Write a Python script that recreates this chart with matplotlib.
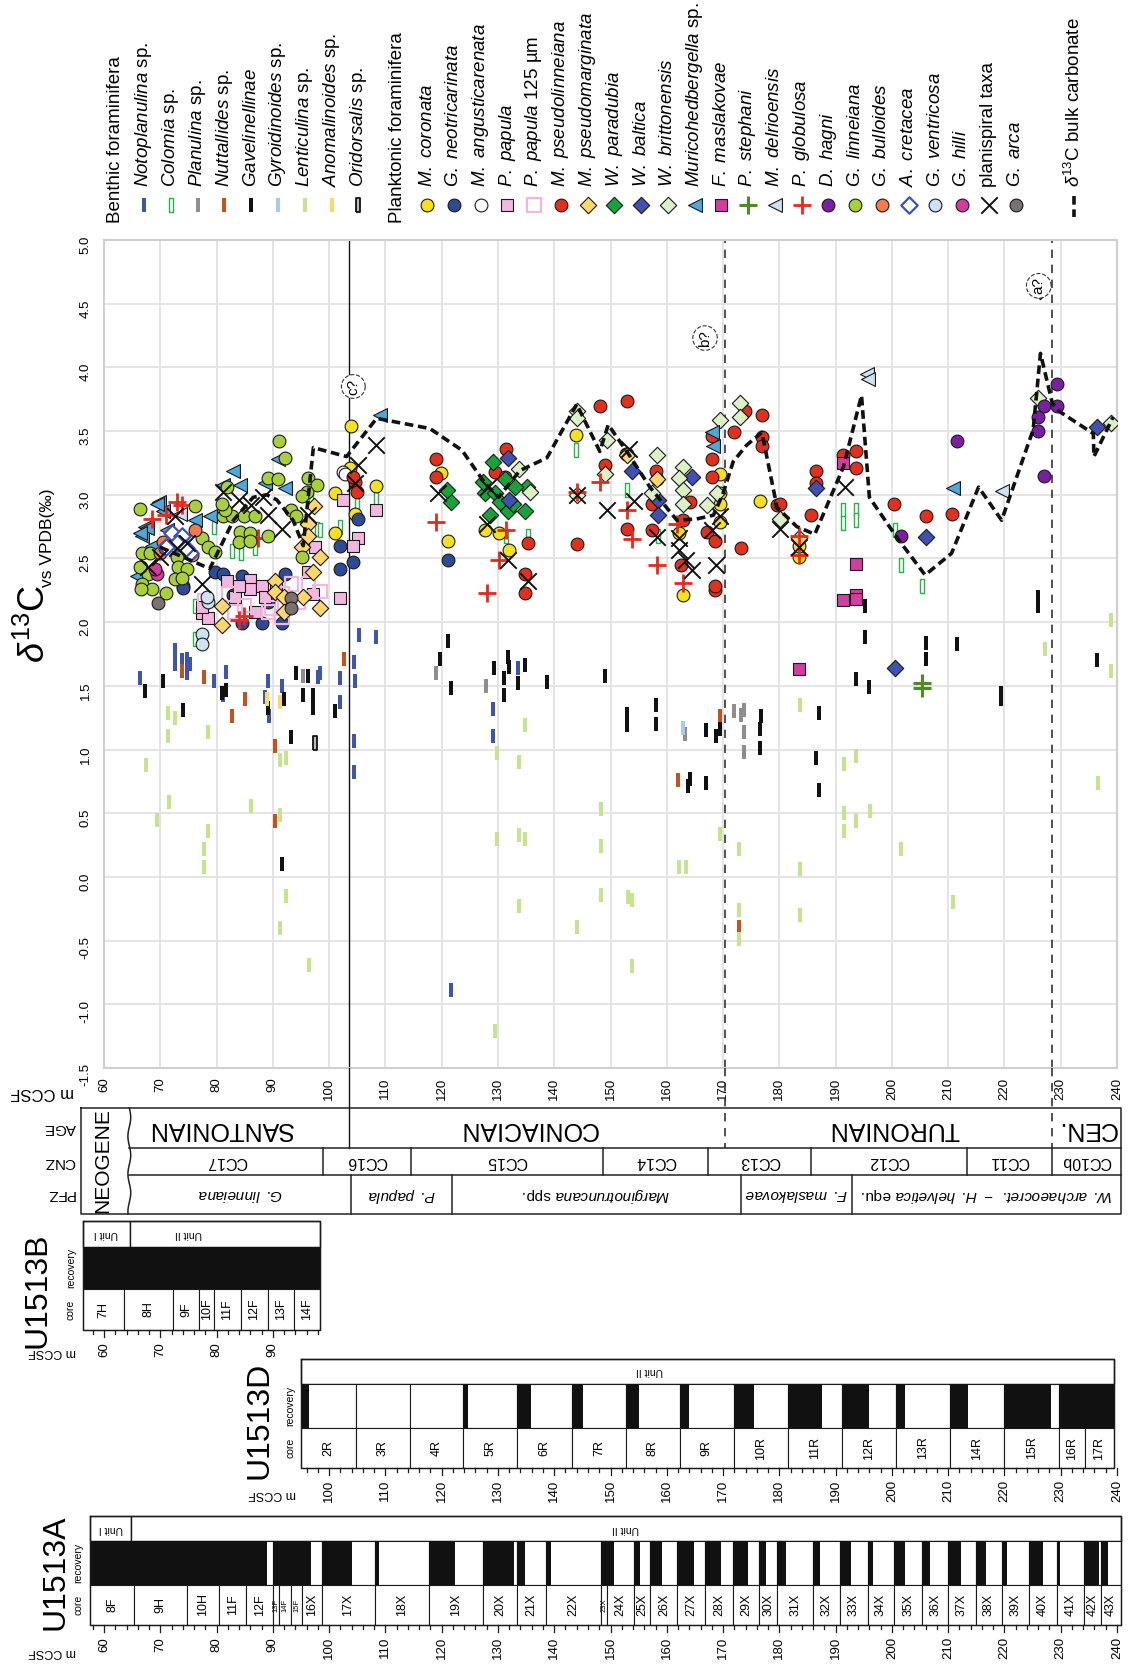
import numpy as np
import matplotlib
matplotlib.use('Agg')
import matplotlib.pyplot as plt
from matplotlib.patches import Rectangle
import matplotlib.transforms as mtransforms

plt.rcParams['font.family'] = ['Liberation Sans', 'DejaVu Sans']
plt.rcParams['mathtext.fontset'] = 'custom'
plt.rcParams['mathtext.rm'] = 'Liberation Sans'
plt.rcParams['mathtext.it'] = 'Liberation Sans:italic'
plt.rcParams['mathtext.bf'] = 'Liberation Sans:bold'

# ─── DATA (depth m CCSF, d13C permil) ────────────────────────────────────
# benthic foraminifera
NOTOPLANULINA = [(66.4, 1.56), (72.7, 1.67), (72.7, 1.78), (73.8, 1.70), (73.8, 1.62), (74.7, 1.71),
                 (74.7, 1.60), (75.2, 1.67), (79.6, 1.54), (81.7, 1.61), (81.1, 1.43), (89.1, 1.54),
                 (88.6, 1.41), (89.3, 1.26), (91.6, 1.50), (98.0, 1.57), (98.4, 1.60), (101.9, 1.56),
                 (101.9, 1.37), (104.4, 1.69), (104.6, 1.54), (105.3, 1.90), (108.4, 1.88), (104.4, 1.07),
                 (104.4, 0.82), (129.2, 1.32), (129.2, 1.11), (133.6, 1.64), (121.6, -0.89)]
COLOMIA = [(97.8, 2.73), (98.4, 2.72), (82.7, 2.56), (84.3, 2.54), (86.9, 2.58), (101.9, 2.75),
           (104.9, 2.94), (76.2, 2.13), (76.2, 1.87), (108.4, 2.97), (143.8, 3.35), (152.9, 3.04),
           (135.4, 2.68), (131.5, 2.68), (158.4, 2.68), (191.4, 2.88), (193.6, 2.88), (200.6, 2.72),
           (201.7, 2.45), (205.3, 2.28), (191.4, 2.78), (193.6, 2.80), (79.5, 2.75), (96.8, 2.95)]
PLANULINA = [(119.0, 1.60), (127.8, 1.50), (172.0, 1.30), (173.1, 1.27), (173.7, 1.31), (173.7, 1.14),
             (173.7, 0.98), (163.2, 1.12), (95.3, 1.58)]
NUTTALLIDES = [(73.9, 1.62), (77.8, 1.57), (82.7, 1.26), (85.05, 1.40), (90.3, 1.03), (90.3, 0.44),
               (102.6, 1.71), (162.0, 0.76), (169.5, 1.26), (172.8, -0.39)]
GAVELINELLINAE = [(67.3, 1.46), (70.4, 1.54), (74.1, 1.31), (80.9, 1.44), (81.7, 1.47), (89.1, 1.33),
                  (91.9, 1.40), (93.2, 1.10), (94.1, 1.60), (96.2, 1.58), (95.3, 1.43), (97.2, 1.43),
                  (97.2, 1.33), (101.0, 1.30), (91.6, 0.10), (121.2, 1.85), (119.7, 1.71), (121.6, 1.48),
                  (129.3, 1.64), (131.0, 1.56), (131.1, 1.43), (131.7, 1.73), (132.0, 1.65), (133.6, 1.52),
                  (134.8, 1.66), (138.7, 1.53), (149.1, 1.58), (152.9, 1.19), (152.9, 1.28), (158.1, 1.35),
                  (158.1, 1.20), (163.8, 0.71), (164.1, 0.77), (166.9, 1.15), (166.9, 0.74), (168.7, 1.11),
                  (169.5, 1.16), (176.7, 1.26), (176.6, 1.16), (176.6, 1.01), (195.2, 2.13), (195.2, 1.88),
                  (206.0, 1.84), (206.0, 1.71), (211.6, 1.83), (193.6, 1.55), (195.9, 1.49), (219.3, 1.44),
                  (219.3, 1.40), (187.0, 1.29), (186.6, 0.93), (187.0, 0.68), (226.0, 2.13), (226.0, 2.20),
                  (236.4, 1.70)]
GYROIDINOIDES = [(162.8, 1.17)]
LENTICULINA = [(71.3, 1.29), (72.7, 1.25), (71.3, 1.11), (78.4, 1.14), (67.5, 0.88), (71.5, 0.59),
               (69.4, 0.45), (78.4, 0.36), (77.8, 0.22), (77.8, 0.08), (86.1, 0.56), (91.3, 0.92),
               (92.3, 0.93), (91.3, 0.49), (92.3, -0.15), (91.3, -0.40), (96.4, -0.69), (134.8, 1.19),
               (129.8, 0.97), (133.7, 0.90), (129.8, 0.30), (133.7, 0.33), (134.8, 0.30), (148.3, 0.53),
               (148.3, 0.24), (148.3, -0.14), (144.05, -0.39), (153.05, -0.16), (153.9, -0.18),
               (153.9, -0.70), (133.7, -0.23), (129.5, -1.21), (162.2, 0.08), (163.4, 0.08), (169.5, 0.34),
               (172.8, 0.22), (172.8, -0.26), (172.8, -0.49), (183.7, 1.35), (183.7, 0.06), (183.7, -0.30),
               (191.5, 0.89), (193.7, 0.95), (191.5, 0.50), (193.7, 0.44), (196.1, 0.52), (191.5, 0.36),
               (201.7, 0.22), (210.8, -0.20), (227.2, 1.79), (236.7, 0.74), (239.0, 2.02), (239.0, 1.62)]
ANOMALINOIDES = [(88.9, 1.40), (91.3, 1.37)]
ORIDORSALIS = [(97.5, 1.05)]

# planktonic foraminifera
M_CORONATA = [(103.9, 3.54), (101.0, 3.01), (103.7, 3.21), (104.6, 2.85), (101.0, 2.70), (108.4, 3.07),
              (119.8, 3.17), (121.2, 2.64), (127.7, 2.72), (130.1, 2.70), (132.0, 2.57), (143.8, 3.47),
              (152.7, 3.32), (158.2, 3.12), (162.1, 2.70), (162.8, 2.21), (169.5, 3.16), (169.5, 3.01),
              (169.5, 2.93), (169.5, 2.79), (176.6, 2.95), (183.5, 2.51), (183.5, 2.60)]
G_NEOTRICARINATA = [(74.1, 2.28), (79.7, 2.39), (81.2, 2.38), (84.5, 2.36), (92.2, 2.38), (84.5, 1.99),
                    (88.0, 1.99), (91.6, 1.99), (101.9, 2.60), (101.9, 2.42), (105.2, 2.81), (104.3, 2.47),
                    (83.0, 2.21), (89.2, 2.16), (121.2, 2.49), (74.0, 2.27)]
M_ANGUSTICARENATA = [(102.5, 3.18), (102.9, 3.16)]
P_PAPULA = [(81.8, 2.32), (86.0, 2.33), (86.0, 2.26), (88.0, 2.28), (88.6, 2.20), (83.3, 2.20), (77.4, 2.07),
            (78.5, 2.03), (86.8, 2.08), (97.5, 2.59), (96.3, 2.39), (97.2, 2.22), (102.5, 2.96), (105.2, 2.66),
            (104.3, 2.60), (101.9, 2.19), (108.4, 2.88), (77.4, 2.12), (84.0, 2.28), (90.5, 2.27)]
P_PAPULA_125 = [(77.9, 2.17), (82.1, 2.22), (83.3, 2.08), (89.2, 2.08), (91.6, 2.04), (93.3, 2.30),
                (96.3, 2.30), (98.4, 2.24), (91.6, 2.22), (89.8, 2.11), (94.5, 2.16), (85.0, 2.13)]
M_PSEUDOLINNEIANA = [(104.6, 3.10), (104.9, 3.02), (104.3, 3.14), (119.0, 3.28), (119.0, 3.14), (131.4, 3.36),
                     (129.5, 3.18), (131.3, 3.14), (135.4, 2.62), (134.8, 2.38), (134.8, 2.23), (144.0, 2.61),
                     (148.1, 3.70), (152.9, 3.74), (149.0, 3.23), (152.9, 3.32), (152.9, 2.73), (157.3, 2.93),
                     (158.1, 3.19), (157.3, 2.72), (162.6, 2.45), (162.9, 2.80), (164.1, 2.94), (168.0, 3.28),
                     (168.0, 3.14), (168.0, 3.46), (167.1, 2.71), (168.6, 2.64), (168.6, 2.25), (168.6, 2.28),
                     (171.9, 3.49), (173.9, 3.66), (176.9, 3.63), (176.9, 3.45), (176.9, 3.38), (173.1, 2.58),
                     (179.5, 2.92), (180.2, 2.93), (186.5, 3.19), (186.5, 3.09), (185.6, 2.84), (191.4, 3.31),
                     (193.6, 3.34), (193.6, 3.21), (200.4, 2.93), (206.0, 2.83), (210.7, 2.85)]
M_PSEUDOMARGINATA = [(97.4, 2.91), (96.3, 2.77), (96.3, 2.68), (95.1, 2.59), (98.4, 2.51), (97.2, 2.39),
                     (90.4, 2.32), (90.4, 2.24), (91.9, 2.20), (95.4, 2.20), (98.4, 2.11), (80.9, 2.13),
                     (80.9, 1.98), (91.9, 2.08), (158.2, 3.12), (152.9, 3.31), (183.5, 2.66)]
W_PARADUBIA = [(129.2, 3.26), (127.7, 3.01), (129.5, 3.01), (131.3, 3.12), (128.6, 2.84), (131.8, 2.87),
               (134.8, 2.87), (135.1, 3.06), (121.6, 2.94), (120.9, 3.04), (130.4, 2.94), (132.7, 2.93),
               (127.4, 3.10), (133.0, 3.06)]
W_BALTICA = [(131.7, 3.29), (132.0, 2.96), (153.9, 3.19), (164.4, 3.14), (158.5, 2.96), (158.5, 2.84),
             (186.5, 3.05), (206.0, 2.67), (226.4, 4.60), (236.4, 3.53), (200.6, 1.64)]
W_BRITTONENSIS = [(133.8, 3.20), (135.7, 3.02), (144.0, 3.66), (144.0, 3.60), (149.3, 3.43), (149.0, 3.16),
                  (158.2, 3.31), (162.9, 3.22), (162.1, 3.13), (162.9, 3.04), (162.8, 2.93), (167.1, 2.92),
                  (169.5, 3.59), (173.0, 3.72), (173.0, 3.61), (157.3, 3.01), (144.0, 3.00), (168.9, 3.01),
                  (180.2, 2.81), (226.0, 3.76), (239.0, 3.56)]
MURICOHEDBERGELLA = [(83.0, 3.19), (84.2, 3.08), (81.2, 3.08), (92.2, 3.05), (88.6, 3.09), (78.8, 2.83),
                     (69.7, 2.94), (67.3, 2.75), (66.7, 2.68), (70.5, 2.87), (68.5, 2.60), (76.2, 2.80),
                     (91.0, 3.28), (65.8, 2.36), (69.4, 2.93), (67.6, 2.74), (66.4, 2.70), (71.2, 2.72),
                     (109.0, 3.63), (168.0, 3.49), (168.3, 3.38), (210.9, 3.05)]
F_MASLAKOVAE = [(191.4, 3.25), (193.6, 2.46), (191.4, 2.17), (193.6, 2.21), (183.5, 1.63), (193.6, 2.18)]
P_STEPHANI = [(205.3, 1.52), (205.3, 1.48)]
M_DELRIOENSIS = [(195.5, 3.95), (195.8, 3.91), (219.5, 3.03), (73.5, 2.85)]
P_GLOBULOSA = [(72.9, 2.94), (73.9, 2.92), (68.5, 2.81), (71.1, 2.84), (87.4, 2.66), (84.8, 2.05), (83.9, 2.02),
               (119.0, 2.79), (128.0, 2.23), (130.1, 2.49), (131.4, 2.72), (144.0, 3.02), (148.1, 3.10),
               (152.9, 2.88), (153.9, 2.65), (158.2, 2.45), (161.8, 2.77), (162.8, 2.31), (183.5, 2.68),
               (183.5, 2.53)]
D_HAGNI = [(211.6, 3.42), (201.7, 2.68), (227.1, 3.15), (229.4, 3.87), (227.0, 3.70), (229.4, 3.70),
           (226.0, 3.61), (226.0, 3.50)]
G_LINNEIANA = [(91.15, 3.42), (92.2, 3.29), (89.1, 3.13), (91.0, 3.12), (96.3, 3.13), (97.8, 3.08), (96.0, 3.02),
               (81.8, 3.06), (66.4, 2.89), (76.2, 2.91), (81.1, 2.83), (82.7, 2.83), (84.8, 2.83), (86.8, 2.83),
               (84.2, 2.71), (85.9, 2.70), (83.9, 2.63), (85.9, 2.64), (89.2, 2.68), (93.3, 2.88), (94.2, 2.83),
               (95.1, 2.99), (77.4, 2.66), (78.5, 2.59), (79.7, 2.55), (66.7, 2.54), (68.2, 2.54), (66.6, 2.43),
               (67.9, 2.38), (66.7, 2.30), (68.5, 2.26), (71.1, 2.23), (72.9, 2.51), (73.2, 2.43), (74.7, 2.42),
               (72.6, 2.34), (73.9, 2.35), (95.1, 2.51), (81.5, 2.88), (80.9, 2.93), (66.4, 2.43), (66.6, 2.26)]
G_BULLOIDES = [(76.2, 2.72), (70.5, 2.63), (70.0, 2.54), (75.6, 2.53), (70.8, 2.58)]
A_CRETACEA = [(72.0, 2.70), (73.8, 2.68), (72.9, 2.62), (71.1, 2.59), (75.3, 2.54), (74.5, 2.58)]
G_VENTRICOSA = [(78.5, 2.16), (78.3, 2.20), (77.5, 1.91), (77.5, 1.83)]
G_HILLI = [(69.4, 2.38), (69.0, 2.42)]
PLANISPIRAL = [(81.2, 3.02), (83.9, 2.96), (86.2, 2.92), (88.3, 2.98), (89.2, 2.84), (91.6, 2.73), (96.3, 2.84),
               (77.4, 2.30), (67.9, 2.43), (70.0, 2.51), (74.7, 2.62), (72.9, 2.58), (108.4, 3.39),
               (105.2, 3.23), (104.6, 3.09), (72.6, 2.83), (119.4, 3.01), (128.3, 3.06), (128.0, 2.77),
               (131.8, 2.49), (135.4, 2.32), (144.0, 3.00), (153.3, 3.36), (149.3, 2.88), (154.2, 2.95),
               (158.2, 2.67), (162.2, 2.66), (162.2, 2.57), (163.5, 2.49), (164.4, 2.41), (168.7, 2.45),
               (168.0, 2.72), (169.5, 2.83), (180.2, 2.73), (183.5, 2.59), (191.7, 3.06)]
G_ARCA = [(69.65, 2.15), (93.2, 2.19), (93.2, 2.11)]

# d13C bulk carbonate
BULK_DEPTH = [69.9, 78.8, 83.0, 86.5, 88.9, 90.7, 93.6, 95.4, 97.2, 103.1, 108.45, 117.9, 123.6, 127.7,
              130.1, 133.9, 138.7, 144.0, 148.1, 149.6, 153.2, 157.0, 161.8, 165.3, 168.3, 170.0, 171.8,
              174.2, 176.9, 179.6, 183.1, 186.3, 191.4, 194.6, 196.0, 200.8, 205.9, 210.6, 215.4, 219.5,
              225.1, 226.4, 228.5, 229.9, 235.8, 235.9, 239.3]
BULK_D13C = [2.59, 2.42, 2.80, 2.98, 3.00, 2.96, 2.80, 2.60, 3.37, 3.30, 3.60, 3.52, 3.35, 3.09,
             2.98, 3.19, 3.29, 3.71, 3.34, 3.55, 3.32, 3.06, 2.80, 2.81, 2.84, 3.01, 3.26,
             3.39, 3.49, 2.90, 2.75, 2.69, 3.22, 3.78, 2.98, 2.67, 2.37, 2.54, 3.06, 2.80,
             3.51, 4.11, 3.72, 3.65, 3.48, 3.30, 3.61]

ANNOTATIONS = [('a?', 226.1, 4.64), ('b?', 166.8, 4.23), ('c?', 104.3, 3.85)]
SANT_CONI, CONI_TUR, TUR_CEN = 103.6, 170.4, 228.4

# stratigraphy
AGE_NAMES = ['SANTONIAN', 'CONIACIAN', 'TURONIAN', 'CEN.']
AGE_EDGES = [64.5, 103.6, 170.4, 228.4, 240.7]
AGE_LABEL_AT = [80.6, 135.5, 200.4, 234.6]
CNZ_NAMES = ['CC17', 'CC16', 'CC15', 'CC14', 'CC13', 'CC12', 'CC11', 'CC10b']
CNZ_EDGES = [64.5, 99.0, 114.5, 148.7, 167.4, 185.6, 213.3, 228.4, 240.7]
PFZ_NAMES = [r'$\mathit{G.\ linneiana}$', r'$\mathit{P.\ papula}$', r'$\mathit{Marginotruncana}$ spp.',
             r'$\mathit{F.\ maslakovae}$', r'$\mathit{W.\ archaeocret.\ -\ H.\ helvetica}$ equ.']
PFZ_EDGES = [64.5, 103.9, 121.8, 173.1, 193.0, 240.7]

# cores
B_CORES = ['7H', '8H', '9F', '10F', '11F', '12F', '13F', '14F']
B_TOPS = [56.2, 63.5, 72.2, 76.9, 79.6, 84.3, 89.1, 93.8, 98.3]
B_REC = [7.3, 8.7, 4.7, 2.7, 4.7, 4.8, 4.7, 4.5]
D_CORES = ['2R', '3R', '4R', '5R', '6R', '7R', '8R', '9R', '10R', '11R', '12R', '13R', '14R', '15R', '16R', '17R']
D_TOPS = [94.95, 104.7, 114.3, 123.8, 133.4, 143.2, 152.7, 162.3, 171.9, 181.6, 191.1, 200.8, 210.4,
          220.0, 229.7, 234.3, 239.4]
D_REC = [1.5, 0.0, 0.0, 0.8, 2.4, 1.9, 2.3, 1.7, 3.6, 5.9, 4.9, 1.5, 3.1, 8.2, 4.6, 5.1]
A_CORES = ['8F', '9H', '10H', '11F', '12F', '13F', '14F', '15F', '16X', '17X', '18X', '19X', '20X', '21X',
           '22X', '23X', '24X', '25X', '26X', '27X', '28X', '29X', '30X', '31X', '32X', '33X', '34X', '35X',
           '36X', '37X', '38X', '39X', '40X', '41X', '42X', '43X']
A_TOPS = [57.5, 65.4, 74.8, 80.5, 85.2, 90.1, 91.1, 93.3, 95.2, 98.7, 108.2, 117.8, 127.4, 133.4, 138.5,
          148.3, 149.3, 154.1, 157.1, 161.9, 166.8, 171.7, 176.4, 179.6, 186.0, 190.8, 195.7, 200.4, 205.4,
          210.0, 214.9, 219.6, 224.4, 229.3, 234.2, 237.2, 240.7]
A_REC = [7.9, 9.4, 5.7, 4.7, 3.8, 1.0, 2.2, 1.9, 1.5, 5.4, 0.6, 4.5, 5.4, 1.4, 0.9, 1.0, 1.3, 1.2, 2.0,
         2.9, 2.9, 2.8, 1.3, 1.5, 1.3, 1.9, 0.9, 1.9, 1.4, 2.2, 1.8, 0.9, 2.4, 0.6, 2.6, 1.2]

# ─── STYLES ─────────────────────────────────────────────────────────────
BAR = [(-1, -4), (1, -4), (1, 4), (-1, 4), (-1, -4)]
BS = 115
LEG_FS = 13.5


def bstyle(fc, ec=None, lw=0):
    return dict(marker=BAR, s=BS, facecolors=fc, edgecolors=ec if ec else fc, linewidths=lw)


def pstyle(marker, fc, s=85, ec='#1a1a1a', lw=0.8):
    return dict(marker=marker, s=s, facecolors=fc, edgecolors=ec, linewidths=lw)


BENTHIC = [
    (r'$\mathit{Notoplanulina}$ sp.', NOTOPLANULINA, bstyle('#3d55b0')),
    (r'$\mathit{Colomia}$ sp.', COLOMIA, bstyle('white', '#27b24a', 1.0)),
    (r'$\mathit{Planulina}$ sp.', PLANULINA, bstyle('#8e8e8e')),
    (r'$\mathit{Nuttallides}$ sp.', NUTTALLIDES, bstyle('#c8511b')),
    (r'$\mathit{Gavelinellinae}$', GAVELINELLINAE, bstyle('#111111')),
    (r'$\mathit{Gyroidinoides}$ sp.', GYROIDINOIDES, bstyle('#aac9ec')),
    (r'$\mathit{Lenticulina}$ sp.', LENTICULINA, bstyle('#c6e48c')),
    (r'$\mathit{Anomalinoides}$ sp.', ANOMALINOIDES, bstyle('#fdd867')),
    (r'$\mathit{Oridorsalis}$ sp.', ORIDORSALIS, bstyle('#bdbdbd', '#111111', 1.3)),
]
PLANKTONIC = [
    (r'$\mathit{M.}$ $\mathit{coronata}$', M_CORONATA, pstyle('o', '#f6e11a')),
    (r'$\mathit{G.}$ $\mathit{neotricarinata}$', G_NEOTRICARINATA, pstyle('o', '#2d4a94')),
    (r'$\mathit{M.}$ $\mathit{angusticarenata}$', M_ANGUSTICARENATA, pstyle('o', 'white')),
    (r'$\mathit{P.}$ $\mathit{papula}$', P_PAPULA, pstyle('s', '#f3b7df', s=80)),
    (r'$\mathit{P.}$ $\mathit{papula}$ $\mathit{125}$ µm', P_PAPULA_125, pstyle('s', 'none', s=95, ec='#f3b7df', lw=1.6)),
    (r'$\mathit{M.}$ $\mathit{pseudolinneiana}$', M_PSEUDOLINNEIANA, pstyle('o', '#e2301c')),
    (r'$\mathit{M.}$ $\mathit{pseudomarginata}$', M_PSEUDOMARGINATA, pstyle('D', '#fed76c', s=70)),
    (r'$\mathit{W.}$ $\mathit{paradubia}$', W_PARADUBIA, pstyle('D', '#16a33a', s=70)),
    (r'$\mathit{W.}$ $\mathit{baltica}$', W_BALTICA, pstyle('D', '#3f51b3', s=70)),
    (r'$\mathit{W.}$ $\mathit{brittonensis}$', W_BRITTONENSIS, pstyle('D', '#ddf1c6', s=70)),
    (r'$\mathit{Muricohedbergella}$ sp.', MURICOHEDBERGELLA, pstyle('<', '#4ea8db', s=100)),
    (r'$\mathit{F.}$ $\mathit{maslakovae}$', F_MASLAKOVAE, pstyle('s', '#d43c9f', s=80)),
    (r'$\mathit{P.}$ $\mathit{stephani}$', P_STEPHANI, dict(marker='+', s=170, c='#4c8a2b', linewidths=2.2)),
    (r'$\mathit{M.}$ $\mathit{delrioensis}$', M_DELRIOENSIS, pstyle('<', '#cfe0f2', s=100)),
    (r'$\mathit{P.}$ $\mathit{globulosa}$', P_GLOBULOSA, dict(marker='+', s=150, c='#e8281c', linewidths=2.0)),
    (r'$\mathit{D.}$ $\mathit{hagni}$', D_HAGNI, pstyle('o', '#7a1f9f')),
    (r'$\mathit{G.}$ $\mathit{linneiana}$', G_LINNEIANA, pstyle('o', '#a7d03b')),
    (r'$\mathit{G.}$ $\mathit{bulloides}$', G_BULLOIDES, pstyle('o', '#f47b4b')),
    (r'$\mathit{A.}$ $\mathit{cretacea}$', A_CRETACEA, pstyle('D', 'white', s=70, ec='#3f51b3', lw=1.6)),
    (r'$\mathit{G.}$ $\mathit{ventricosa}$', G_VENTRICOSA, pstyle('o', '#cfe2f3')),
    (r'$\mathit{G.}$ $\mathit{hilli}$', G_HILLI, pstyle('o', '#d53b9f')),
    ('planispiral taxa', PLANISPIRAL, dict(marker='x', s=140, c='#111111', linewidths=1.4)),
    (r'$\mathit{G.}$ $\mathit{arca}$', G_ARCA, pstyle('o', '#7a7272')),
]

# ─── FIGURE ─────────────────────────────────────────────────────────────
W, H = 1128, 1670
fig = plt.figure(figsize=(W / 100, H / 100), dpi=100)
ax = fig.add_axes([104 / W, 1 - 1068 / H, 1013 / W, 828 / H])
ax.set_xlim(60, 240)
ax.set_ylim(-1.5, 5.0)
ax.set_xticks(np.arange(60, 241, 10))
ax.set_yticks(np.arange(-1.5, 5.01, 0.5))
ax.set_yticklabels(['%.1f' % v for v in np.arange(-1.5, 5.01, 0.5)])
ax.tick_params(length=0, labelsize=9.5)
ax.tick_params(axis='x', labelrotation=90, pad=7)
ax.tick_params(axis='y', labelrotation=90, pad=9)
ax.grid(True, color='#e2e2e2', lw=1.3)
ax.set_axisbelow(True)
for sp in ax.spines.values():
    sp.set_color('#cfcfcf')
    sp.set_linewidth(1.5)

for label, pts, st in BENTHIC + PLANKTONIC:
    a = np.array(pts)
    ax.scatter(a[:, 0], a[:, 1], zorder=3, **st)

ax.plot(BULK_DEPTH, BULK_D13C, color='#111111', lw=2.6, ls=(0, (2.4, 1.3)), zorder=5)
ax.axvline(SANT_CONI, color='#111111', lw=1.0, zorder=2)
for d in (CONI_TUR, TUR_CEN):
    ax.axvline(d, color='#333333', lw=1.2, ls=(0, (5, 4)), zorder=2)
for txt, d, v in ANNOTATIONS:
    ax.text(d, v, txt, rotation=90, ha='center', va='center', fontsize=11, zorder=6,
            bbox=dict(boxstyle='circle,pad=0.25', fc='white', ec='#333333', lw=0.8, ls='--'))

# overlay in pixel units (y from the top); x of columns follows the depth axis
ovl = fig.add_axes([0, 0, 1, 1])
ovl.set_xlim(0, W)
ovl.set_ylim(H, 0)
ovl.axis('off')
tr = mtransforms.blended_transform_factory(ax.transData, ovl.transData)

# y label
t1 = ovl.text(45, 663, r'$\delta^{13}$C', rotation=90, rotation_mode='anchor', ha='left', va='baseline',
              fontsize=26)
fig.canvas.draw()
bb = t1.get_window_extent().transformed(ovl.transData.inverted())
ovl.text(52, min(bb.y0, bb.y1) + 2, 'vs VPDB(‰)', rotation=90, rotation_mode='anchor', ha='left',
         va='baseline', fontsize=12.5)

# legend
ovl.text(116, 223, 'Benthic foraminifera', rotation=90, rotation_mode='anchor', ha='left', va='center',
         fontsize=LEG_FS)
for i, (label, pts, st) in enumerate(BENTHIC):
    x = 144 + 26.8 * i
    ovl.scatter([x], [205], **st)
    ovl.text(x, 187, label, rotation=90, rotation_mode='anchor', ha='left', va='center', fontsize=LEG_FS)
ovl.text(398, 223, 'Planktonic foraminifera', rotation=90, rotation_mode='anchor', ha='left', va='center',
         fontsize=LEG_FS)
for i, (label, pts, st) in enumerate(PLANKTONIC):
    x = 427 + 26.75 * i
    ovl.scatter([x], [205], **st)
    ovl.text(x, 187, label, rotation=90, rotation_mode='anchor', ha='left', va='center', fontsize=LEG_FS)
ovl.plot([1074, 1074], [196, 217], color='#111111', lw=2.6, ls=(0, (2.4, 1.3)))
ovl.text(1074, 187, r'$\delta^{13}$C bulk carbonate', rotation=90, rotation_mode='anchor', ha='left',
         va='center', fontsize=LEG_FS)

# depth axis caption
ovl.text(42, 1092, 'm CCSF', rotation=180, ha='center', va='center', fontsize=12)

# boundary lines running through tick labels and age row
ovl.plot([SANT_CONI, SANT_CONI], [1068, 1148], transform=tr, color='#111111', lw=1.0)
for d in (CONI_TUR, TUR_CEN):
    ovl.plot([d, d], [1068, 1148], transform=tr, color='#333333', lw=1.2, ls=(0, (5, 4)))

# ─── STRATIGRAPHIC COLUMN ───────────────────────────────────────────────
Y0, Y1, Y2, Y3 = 1108, 1148, 1175, 1214
LEFT = 56.0
kw = dict(transform=tr, color='#222222', lw=1.1)
ovl.plot([LEFT, 240.7, 240.7, LEFT, LEFT], [Y0, Y0, Y3, Y3, Y0], **kw)
ovl.plot([64.5, 240.7], [Y1, Y1], **kw)
ovl.plot([64.5, 240.7], [Y2, Y2], **kw)
yy = np.linspace(Y0, Y3, 60)
ovl.plot(64.5 + 0.25 * np.sin((yy - Y0) / 6.0), yy, **kw)
ovl.text(103, (Y0 + Y3) / 2, 'NEOGENE', rotation=90, ha='center', va='center', fontsize=15)
for lab, yc in (('AGE', (Y0 + Y1) / 2), ('CNZ', (Y1 + Y2) / 2), ('PFZ', (Y2 + Y3) / 2)):
    ovl.text(60, yc, lab, rotation=180, ha='center', va='center', fontsize=11)
for name, xc in zip(AGE_NAMES, AGE_LABEL_AT):
    ovl.text(xc, (Y0 + Y1) / 2 + 1, name, transform=tr, rotation=180, ha='center', va='center', fontsize=18)
for e in CNZ_EDGES[1:-1]:
    ovl.plot([e, e], [Y1, Y2], **kw)
for name, a, b in zip(CNZ_NAMES, CNZ_EDGES[:-1], CNZ_EDGES[1:]):
    ovl.text((a + b) / 2, (Y1 + Y2) / 2, name, transform=tr, rotation=180, ha='center', va='center',
             fontsize=11.5)
for e in PFZ_EDGES[1:-1]:
    ovl.plot([e, e], [Y2, Y3], **kw)
for name, a, b in zip(PFZ_NAMES, PFZ_EDGES[:-1], PFZ_EDGES[1:]):
    ovl.text((a + b) / 2, (Y2 + Y3) / 2, name, transform=tr, rotation=180, ha='center', va='center',
             fontsize=11)


# ─── CORE COLUMNS ───────────────────────────────────────────────────────
def draw_site(name, names, tops, rec, units, yu, yr, yc, yb, tick_range, lab_xy, cap_xy, cr_x, unit_at=None):
    left, right = tops[0], tops[-1]
    k = dict(transform=tr, color='#1a1a1a', lw=1.0)
    # unit row
    for j, (uname, a, b) in enumerate(units):
        ovl.add_patch(Rectangle((a, yu), b - a, yr - yu, transform=tr, fc='white', ec='#1a1a1a', lw=1.0))
        xc = unit_at[j] if unit_at else (a + b) / 2
        ovl.text(xc, (yu + yr) / 2, uname, transform=tr, rotation=180, ha='center', va='center', fontsize=7.5)
    # recovery + core cells
    for cname, a, b, r in zip(names, tops[:-1], tops[1:], rec):
        ovl.add_patch(Rectangle((a, yr), b - a, yc - yr, transform=tr, fc='white', ec='#1a1a1a', lw=0.8))
        if r > 0:
            ovl.add_patch(Rectangle((a, yr), min(r, b - a), yc - yr, transform=tr, fc='#111111', lw=0))
        ovl.add_patch(Rectangle((a, yc), b - a, yb - yc, transform=tr, fc='white', ec='#1a1a1a', lw=0.8))
        fs = 9 if b - a > 2.5 else 5.5
        ovl.text((a + b) / 2, (yc + yb) / 2, cname, transform=tr, rotation=90, ha='center', va='center',
                 fontsize=fs)
    ovl.plot([left, right, right, left, left], [yu, yu, yb, yb, yu], **k)
    # depth ticks
    for d in range(tick_range[0], tick_range[1] + 1, 2):
        L = 7 if d % 10 == 0 else 4
        ovl.plot([d, d], [yb, yb + L], transform=tr, color='#1a1a1a', lw=0.9)
        if d % 10 == 0:
            ovl.text(d, yb + 12, str(d), transform=tr, rotation=90, ha='center', va='top', fontsize=9.5)
    ovl.text(lab_xy[0], lab_xy[1], name, rotation=90, ha='center', va='center', fontsize=23)
    ovl.text(cap_xy[0], cap_xy[1], 'm CCSF', rotation=180, ha='center', va='center', fontsize=9)
    ovl.text(cr_x, (yc + yb) / 2, 'core', rotation=90, ha='center', va='center', fontsize=7.5)
    ovl.text(cr_x, (yr + yc) / 2, 'recovery', rotation=90, ha='center', va='center', fontsize=7.5)


draw_site('U1513B', B_CORES, B_TOPS, B_REC, [('Unit I', 56.2, 64.7), ('Unit II', 64.7, 98.3)],
          1221, 1247, 1289, 1330, (58, 98), (38, 1290), (52, 1352), 71, unit_at=[60.4, 75.0])
draw_site('U1513D', D_CORES, D_TOPS, D_REC, [('Unit II', 94.95, 239.4)],
          1359, 1384, 1428, 1468, (96, 240), (260, 1420), (272, 1494), 290, unit_at=[157.0])
draw_site('U1513A', A_CORES, A_TOPS, A_REC, [('Unit I', 57.5, 64.8), ('Unit II', 64.8, 240.7)],
          1516, 1541, 1585, 1625, (58, 240), (55, 1572), (52, 1652), 78)

fig.savefig('out.png', dpi=100)
